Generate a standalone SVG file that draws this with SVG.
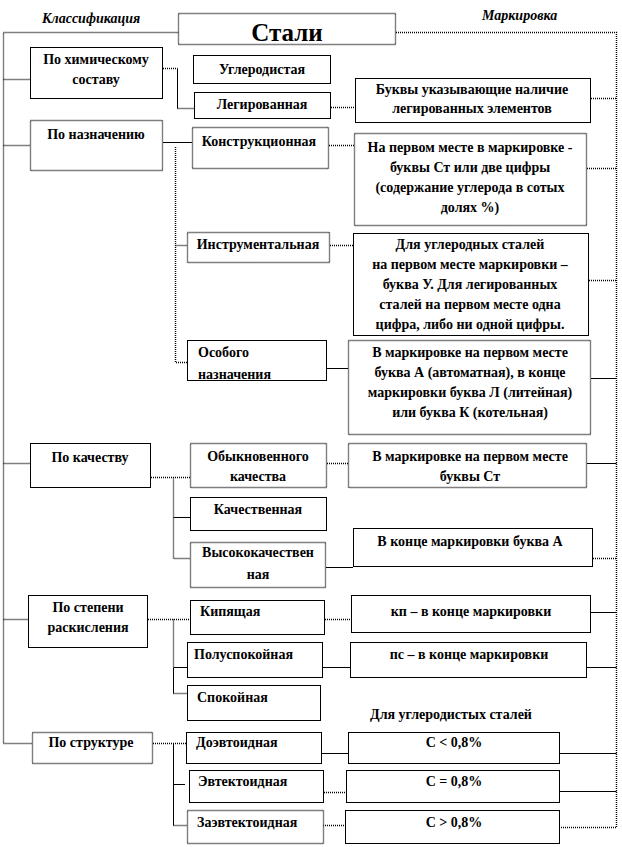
<svg xmlns="http://www.w3.org/2000/svg" width="622" height="847" viewBox="0 0 622 847">
<style>
.b{fill:#fff;stroke:#000;stroke-width:1}
.d{stroke-dasharray:1 1;stroke-width:1.4}
.c{fill:none;stroke:#000;stroke-width:1}
.cd{stroke-dasharray:1 1;stroke-width:1.4}
text{font-family:"Liberation Serif","Times New Roman",serif;font-weight:bold;font-size:14px;fill:#000}
.m{text-anchor:middle}
.it{font-style:italic;font-size:14px}
</style>
<rect width="622" height="847" fill="#fff"/>
<g id="connectors">
  <path class="c cd" d="M178.5 32.5H3.5V743.5H32"/>
  <path class="c cd" d="M396 32.5H616.5V827.5H560"/>
  <path class="c cd" d="M3.5 79.5H30M3.5 145.5H30M3.5 463.5H30M3.5 619.5H28"/>
  <path class="c cd" d="M591 98.5H616.5M587 168.5H616.5M589 280.5H616.5M593 558.5H616.5"/>
  <path class="c" d="M591 378.5H616.5M587 463.5H616.5M591 612.5H616.5M587 667.5H616.5M560 753.5H616.5M560 791.5H616.5"/>
  <path class="c cd" d="M163 68.5H177.5M177.5 108.5H194"/>
  <path class="c" d="M177.5 68.5V108.5"/>
  <path class="c cd" d="M331 107.5H355"/>
  <path class="c" d="M163 142.5H192"/>
  <path class="c cd" d="M175.5 147V362.5H187M175.5 245.5H187"/>
  <path class="c cd" d="M329 145.5H354M330 245.5H353"/>
  <path class="c" d="M327 368.5H348"/>
  <path class="c cd" d="M151 477.5H190M173.5 477.5V558.5H190M327 463.5H348"/>
  <path class="c" d="M173.5 517.5H190M326 567.5H353"/>
  <path class="c cd" d="M148 619.5H190M173.5 619.5V667.5M173.5 693.5H187M325 619.5H351"/>
  <path class="c" d="M173.5 667.5V693.5M173.5 667.5H187M323 667.5H350"/>
  <path class="c cd" d="M153 743.5H186M173.5 825.5H187M324 792.5H346M323 825.5H345"/>
  <path class="c" d="M173.5 743.5V825.5M173.5 784.5H185M321 753.5H348"/>
</g>
<text class="it" x="42" y="23">Классификация</text>
<text class="it" x="482" y="20">Маркировка</text>
<g id="steel"><rect class="b d" x="178.5" y="13.5" width="217" height="31"/><text class="m" x="287" y="41" style="font-size:25px">Стали</text></g>
<g id="chem"><rect class="b" x="30.5" y="47.5" width="132" height="51"/><text class="m" x="96" y="64">По химическому</text><text class="m" x="96" y="84">составу</text></g>
<g id="carbon"><rect class="b" x="193.5" y="55.5" width="137" height="28"/><text class="m" x="262" y="74">Углеродистая</text></g>
<g id="alloy"><rect class="b" x="194.5" y="92.5" width="136" height="26"/><text class="m" x="262" y="109">Легированная</text></g>
<g id="alloy-mark"><rect class="b" x="355.5" y="78.5" width="235" height="44"/><text class="m" x="472" y="94">Буквы указывающие наличие</text><text class="m" x="472" y="113">легированных  элементов</text></g>
<g id="purpose"><rect class="b d" x="30.5" y="120.5" width="132" height="50"/><text class="m" x="96" y="139">По назначению</text></g>
<g id="construct"><rect class="b d" x="192.5" y="127.5" width="136" height="41"/><text class="m" x="259" y="146">Конструкционная</text></g>
<g id="construct-mark"><rect class="b d" x="354.5" y="133.5" width="232" height="92"/><text class="m" x="470" y="152">На первом месте в маркировке -</text><text class="m" x="470" y="172">буквы Ст или две  цифры</text><text class="m" x="470" y="192">(содержание углерода в сотых</text><text class="m" x="470" y="212">долях %)</text></g>
<g id="tool"><rect class="b d" x="187.5" y="232.5" width="142" height="30"/><text class="m" x="258" y="249">Инструментальная</text></g>
<g id="tool-mark"><rect class="b" x="353.5" y="233.5" width="235" height="102"/><text class="m" x="470" y="249">Для углеродных сталей</text><text class="m" x="470" y="269">на первом месте маркировки –</text><text class="m" x="470" y="289">буква У. Для легированных</text><text class="m" x="470" y="309">сталей на первом месте одна</text><text class="m" x="470" y="329">цифра, либо ни одной цифры.</text></g>
<g id="special"><rect class="b" x="187.5" y="340.5" width="139" height="40"/><text x="198" y="357">Особого</text><text x="198" y="379">назначения</text></g>
<g id="special-mark"><rect class="b d" x="348.5" y="340.5" width="242" height="94"/><text class="m" x="470" y="357">В маркировке на первом месте</text><text class="m" x="470" y="377">буква А (автоматная), в конце</text><text class="m" x="470" y="397">маркировки буква Л (литейная)</text><text class="m" x="470" y="417">или  буква К (котельная)</text></g>
<g id="quality"><rect class="b" x="30.5" y="443.5" width="120" height="44"/><text class="m" x="90" y="462">По качеству</text></g>
<g id="ordinary"><rect class="b d" x="190.5" y="443.5" width="136" height="44"/><text class="m" x="258" y="461">Обыкновенного</text><text class="m" x="258" y="481">качества</text></g>
<g id="ordinary-mark"><rect class="b d" x="348.5" y="443.5" width="238" height="44"/><text class="m" x="470" y="461">В маркировке на первом месте</text><text class="m" x="470" y="481">буквы Ст</text></g>
<g id="qual"><rect class="b" x="190.5" y="497.5" width="136" height="33"/><text class="m" x="258" y="514">Качественная</text></g>
<g id="high"><rect class="b d" x="190.5" y="542.5" width="135" height="45"/><text class="m" x="258" y="557">Высококачествен</text><text class="m" x="258" y="579">ная</text></g>
<g id="high-mark"><rect class="b" x="353.5" y="528.5" width="239" height="38"/><text class="m" x="470" y="546">В конце  маркировки буква А</text></g>
<g id="deox"><rect class="b" x="28.5" y="595.5" width="119" height="52"/><text class="m" x="88" y="612">По степени</text><text class="m" x="88" y="632">раскисления</text></g>
<g id="boiling"><rect class="b" x="190.5" y="600.5" width="134" height="34"/><text x="200" y="616">Кипящая</text></g>
<g id="boiling-mark"><rect class="b" x="351.5" y="595.5" width="239" height="37"/><text class="m" x="471" y="616">кп – в конце   маркировки</text></g>
<g id="semi"><rect class="b" x="187.5" y="642.5" width="135" height="35"/><text x="194" y="659">Полуспокойная</text></g>
<g id="semi-mark"><rect class="b" x="350.5" y="642.5" width="236" height="35"/><text class="m" x="469" y="659">пс – в конце  маркировки</text></g>
<g id="calm"><rect class="b" x="187.5" y="685.5" width="133" height="35"/><text x="197" y="702">Спокойная</text></g>
<text class="m" x="451" y="719">Для углеродистых сталей</text>
<g id="structure"><rect class="b d" x="32.5" y="732.5" width="120" height="31"/><text class="m" x="91" y="747">По структуре</text></g>
<g id="hypo"><rect class="b" x="186.5" y="732.5" width="135" height="31"/><text x="196" y="747">Доэвтоидная</text></g>
<g id="hypo-mark"><rect class="b" x="348.5" y="732.5" width="211" height="31"/><text class="m" x="454" y="747">C &lt; 0,8%</text></g>
<g id="eutect"><rect class="b" x="189.5" y="770.5" width="134" height="32"/><text x="198" y="786">Эвтектоидная</text></g>
<g id="eutect-mark"><rect class="b" x="346.5" y="770.5" width="213" height="32"/><text class="m" x="454" y="786">C = 0,8%</text></g>
<g id="hyper"><rect class="b d" x="187.5" y="810.5" width="136" height="33"/><text x="197" y="827">Заэвтектоидная</text></g>
<g id="hyper-mark"><rect class="b" x="345.5" y="810.5" width="214" height="33"/><text class="m" x="454" y="827">C &gt; 0,8%</text></g>
</svg>
